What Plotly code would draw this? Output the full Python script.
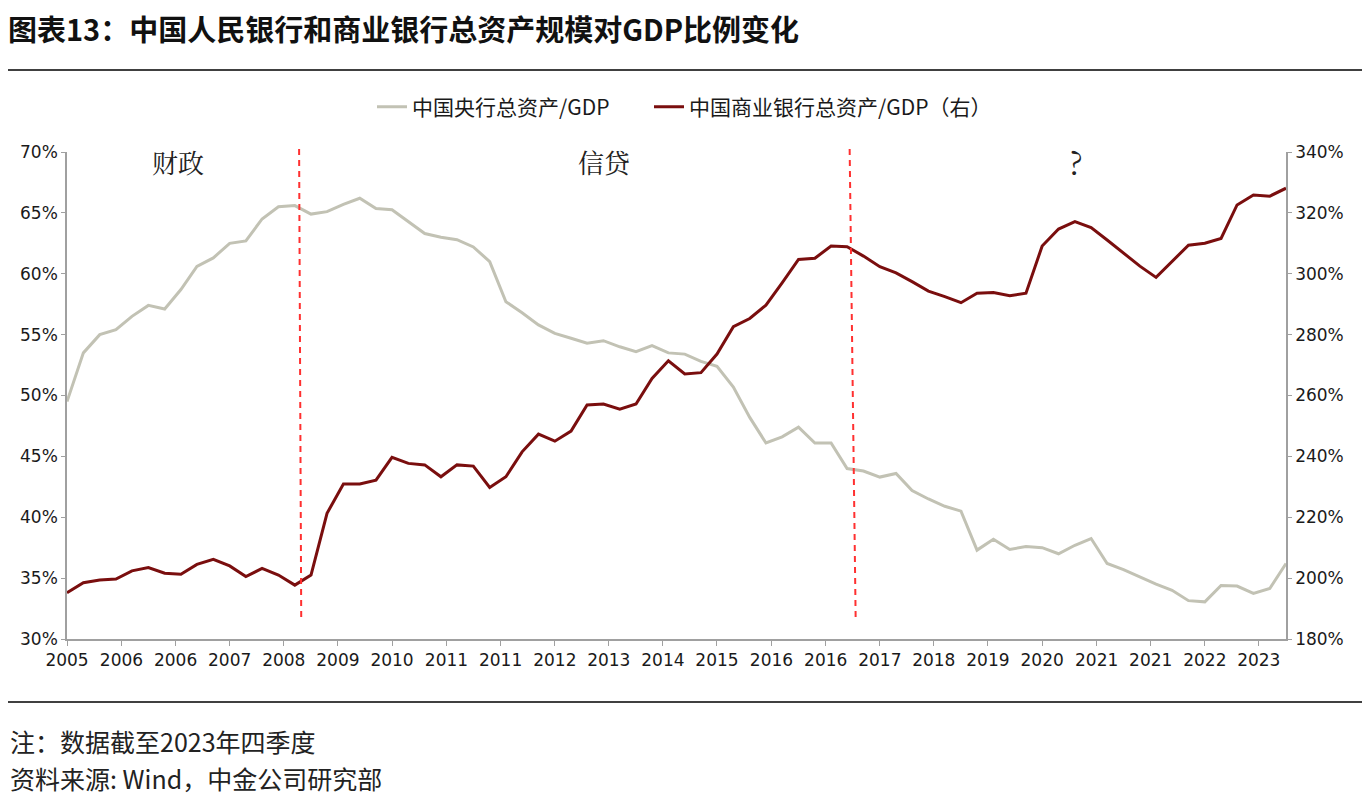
import plotly.graph_objects as go
import pandas as pd

# ---- data (quarterly, 2005Q1 - 2023Q4) ----
dates = pd.date_range("2005-03-01", periods=76, freq="3MS").strftime("%Y-%m-%d").tolist()

pboc_assets_gdp = [
    49.5, 53.5, 55.0, 55.4, 56.5, 57.4, 57.1, 58.7, 60.6, 61.3,
    62.5, 62.7, 64.5, 65.5, 65.6, 64.9, 65.1, 65.7, 66.2, 65.35,
    65.25, 64.3, 63.3, 63.0, 62.8, 62.2, 61.0, 57.7, 56.8, 55.8,
    55.1, 54.7, 54.3, 54.5, 54.0, 53.6, 54.1, 53.5, 53.4, 52.8,
    52.4, 50.7, 48.2, 46.1, 46.6, 47.4, 46.1, 46.1, 44.0, 43.8,
    43.3, 43.6, 42.2, 41.5, 40.9, 40.5, 37.3, 38.2, 37.35, 37.6,
    37.5, 37.0, 37.7, 38.25, 36.2, 35.7, 35.1, 34.5, 34.0, 33.15,
    33.05, 34.4, 34.35, 33.75, 34.15, 36.2,
]

bank_assets_gdp = [
    195.2, 198.5, 199.4, 199.7, 202.4, 203.5, 201.6, 201.3, 204.5, 206.2,
    204.0, 200.5, 203.2, 201.0, 197.7, 201.0, 221.3, 230.9, 230.9, 232.2,
    239.7, 237.7, 237.2, 233.3, 237.2, 236.8, 229.8, 233.3, 241.5, 247.3,
    245.0, 248.3, 256.9, 257.2, 255.5, 257.2, 265.6, 271.4, 267.1, 267.5,
    273.6, 282.6, 285.3, 289.7, 297.0, 304.7, 305.1, 309.1, 308.9, 305.8,
    302.3, 300.3, 297.4, 294.3, 292.5, 290.5, 293.6, 293.8, 292.8, 293.6,
    309.1, 314.7, 317.1, 315.2, 311.1, 306.7, 302.5, 298.8, 304.2, 309.4,
    310.0, 311.6, 322.6, 325.9, 325.5, 328.1,
]

series_names = ["中国央行总资产/GDP", "中国商业银行总资产/GDP（右）"]
phase_labels = ["财政", "信贷", "?"]
phase_breaks = [("2008-09-25", "2008-10-07"), ("2017-03-15", "2017-04-18")]

title_text = "图表13：中国人民银行和商业银行总资产规模对GDP比例变化"
note_text = "注：数据截至2023年四季度"
source_text = "资料来源: Wind，中金公司研究部"

# ---- layout geometry (screen pixels; page body adds an 8px offset) ----
OFF = 8
W, H = 1370 - OFF, 804 - OFF
PL, PR, PT, PB = 67, 1286, 152, 639


def px(x):
    return (x - PL) / (PR - PL)


def py(y):
    return (PB - y) / (PB - PT)


phase_label_px = [178, 604, 1076]
phase_label_sizes = [26, 26, 32]

CJK = "Noto Sans CJK SC"
SERIF = "Noto Serif CJK SC, DejaVu Serif, Liberation Serif, " + CJK
TICKFONT = dict(family="DejaVu Sans, sans-serif", size=17, color="#1a1a1a")
LEGFONT = dict(family=CJK, size=21, color="#1a1a1a")

fig = go.Figure()
fig.add_trace(go.Scatter(
    x=dates, y=pboc_assets_gdp, name=series_names[0], mode="lines",
    line=dict(color="#C2C2B4", width=3), yaxis="y", legend="legend"))
fig.add_trace(go.Scatter(
    x=dates, y=bank_assets_gdp, name=series_names[1], mode="lines",
    line=dict(color="#7A0E0E", width=3), yaxis="y2", legend="legend2"))

shapes = []
for top, bottom in phase_breaks:
    shapes.append(dict(type="line", xref="x", yref="paper",
                       x0=bottom, x1=top, y0=py(617), y1=py(145),
                       line=dict(color="#FF3030", width=2, dash="6px,5px")))
for yy in (70, 702):
    shapes.append(dict(type="line", xref="paper", yref="paper",
                       x0=px(8), x1=px(1362), y0=py(yy), y1=py(yy),
                       line=dict(color="#404040", width=2)))

annotations = []
for lab, xx, sz in zip(phase_labels, phase_label_px, phase_label_sizes):
    annotations.append(dict(text=lab, x=px(xx), xref="paper", y=py(161), yref="paper",
                            showarrow=False, xanchor="center", yanchor="middle",
                            font=dict(family=SERIF if lab == "?" else "Noto Serif CJK SC, " + CJK,
                                      size=sz, color="#222222")))
annotations.append(dict(text=note_text, x=px(8), y=py(741), xref="paper", yref="paper",
                        showarrow=False, xanchor="left", yanchor="middle",
                        font=dict(family=CJK, size=25, color="#222222")))
annotations.append(dict(text=source_text, x=px(8), y=py(778), xref="paper", yref="paper",
                        showarrow=False, xanchor="left", yanchor="middle",
                        font=dict(family=CJK, size=25, color="#222222")))

fig.update_layout(
    width=W, height=H,
    margin=dict(l=PL - OFF, r=W - (PR - OFF), t=PT - OFF, b=H - (PB - OFF), pad=0),
    paper_bgcolor="white", plot_bgcolor="white",
    title=dict(text="<b>" + title_text + "</b>", x=0, xanchor="left",
               y=1 - (31 - OFF) / H, yanchor="middle", yref="container",
               font=dict(family=CJK, size=29, color="#111111")),
    showlegend=True,
    legend=dict(orientation="h", x=px(372), xanchor="left", y=py(107), yanchor="middle",
                font=LEGFONT, bgcolor="rgba(0,0,0,0)", itemwidth=30),
    legend2=dict(orientation="h", x=px(649), xanchor="left", y=py(107), yanchor="middle",
                 font=LEGFONT, bgcolor="rgba(0,0,0,0)", itemwidth=30),
    xaxis=dict(type="date", range=[dates[0], dates[-1]], tick0=dates[0], dtick="M10",
               tickformat="%Y", showgrid=False, zeroline=False,
               showline=True, linecolor="#A0A0A0", linewidth=1.5,
               ticks="outside", ticklen=5, tickcolor="#A0A0A0",
               tickfont=TICKFONT),
    yaxis=dict(range=[30, 70], dtick=5, ticksuffix="%", showgrid=False, zeroline=False,
               showline=True, linecolor="#A0A0A0", linewidth=1.5,
               ticks="outside", ticklen=4, tickcolor="#A0A0A0",
               tickfont=TICKFONT),
    yaxis2=dict(range=[180, 340], dtick=20, ticksuffix="%", overlaying="y", side="right",
                showgrid=False, zeroline=False,
                showline=True, linecolor="#A0A0A0", linewidth=1.5,
                ticks="outside", ticklen=4, tickcolor="#A0A0A0",
                tickfont=TICKFONT),
    shapes=shapes,
    annotations=annotations,
)

fig.write_html("out.html")
